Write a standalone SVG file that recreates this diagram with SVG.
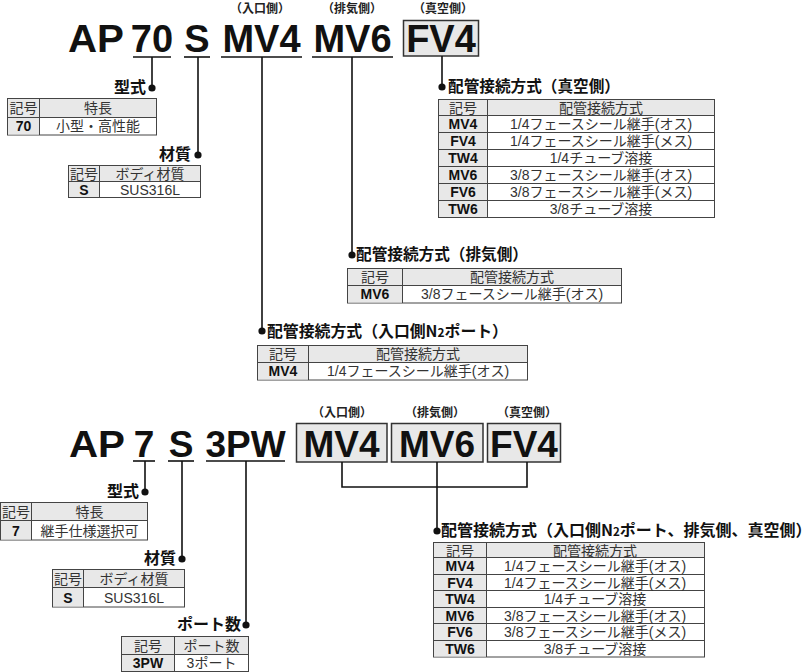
<svg xmlns="http://www.w3.org/2000/svg" width="806" height="672" viewBox="0 0 806 672">
<style>
.code{font-family:"Liberation Sans","Noto Sans CJK JP",sans-serif;font-weight:bold;fill:#111;text-anchor:middle}
.side{font-family:"Noto Sans CJK JP",sans-serif;font-weight:bold;font-size:12px;fill:#222;text-anchor:middle}
.lbl{font-family:"Noto Sans CJK JP",sans-serif;font-weight:bold;font-size:16px;fill:#111}
.end{text-anchor:end}
.th{font-family:"Liberation Sans","Noto Sans CJK JP",sans-serif;font-size:14px;fill:#333;text-anchor:middle}
.tc{font-family:"Liberation Sans","Noto Sans CJK JP",sans-serif;font-size:14px;font-weight:bold;fill:#111;text-anchor:middle}
.tb{fill:#fff;stroke:#444;stroke-width:1}
.gr{fill:#e8e8e8;stroke:none}
.gl{stroke:#444;stroke-width:1;fill:none}
.box{fill:#e8e8e8;stroke:#333;stroke-width:1.5}
.ln{stroke:#111;stroke-width:1.6;fill:none}
.dot{fill:#111}
</style>

<!-- ===== Section 1 header ===== -->
<g id="hdr1">
  <text class="code" x="96" y="52" font-size="38" textLength="56" lengthAdjust="spacingAndGlyphs">AP</text>
  <text class="side" x="260" y="13">（入口側）</text>
  <text class="side" x="352" y="13">（排気側）</text>
  <text class="side" x="443" y="13">（真空側）</text>
</g>
<g id="h1-70"><text class="code" x="152" y="52" font-size="38">70</text><line class="ln" x1="133" y1="57" x2="171" y2="57"/></g>
<g id="h1-s"><text class="code" x="197" y="52" font-size="38">S</text><line class="ln" x1="184" y1="57" x2="210" y2="57"/></g>
<g id="h1-mv4"><text class="code" x="261.5" y="52" font-size="38">MV4</text><line class="ln" x1="221" y1="57" x2="302" y2="57"/></g>
<g id="h1-mv6"><text class="code" x="352.5" y="52" font-size="38">MV6</text><line class="ln" x1="312" y1="57" x2="393" y2="57"/></g>
<g id="h1-fv4"><rect class="box" x="403.5" y="20.5" width="75" height="35.5"/><text class="code" x="441" y="52" font-size="38">FV4</text></g>

<!-- ===== Section 1 connectors ===== -->
<g id="connectors1">
  <line class="ln" x1="152" y1="57" x2="152" y2="88"/><circle class="dot" cx="152" cy="88" r="3.6"/>
  <line class="ln" x1="198" y1="57" x2="198" y2="155"/><circle class="dot" cx="198" cy="155" r="3.6"/>
  <line class="ln" x1="262" y1="57" x2="262" y2="331"/><circle class="dot" cx="262" cy="331" r="3.6"/>
  <line class="ln" x1="352" y1="57" x2="352" y2="255"/><circle class="dot" cx="352" cy="255" r="3.6"/>
  <line class="ln" x1="442" y1="56" x2="442" y2="87"/><circle class="dot" cx="442" cy="87" r="3.6"/>
</g>

<!-- 型式 table 1 -->
<g id="t1-model">
  <text class="lbl end" x="146" y="93">型式</text>
  <rect class="tb" x="7.5" y="98.5" width="149" height="36.5"/>
  <rect class="gr" x="8" y="99" width="148" height="18"/>
  <rect class="gr" x="8" y="117" width="31" height="17.5"/>
  <path class="gl" d="M7.5 117.5H156.5M39.5 98.5V135"/>
  <text class="th" x="23.5" y="113">記号</text><text class="th" x="98" y="113">特長</text>
  <text class="tc" x="23.5" y="131">70</text><text class="th" x="98" y="131">小型・高性能</text>
</g>

<!-- 材質 table 1 -->
<g id="t1-mat">
  <text class="lbl end" x="191" y="160">材質</text>
  <rect class="tb" x="68.5" y="165.5" width="132" height="32"/>
  <rect class="gr" x="69" y="166" width="131" height="15"/>
  <rect class="gr" x="69" y="181" width="30" height="16"/>
  <path class="gl" d="M68.5 181.5H200.5M99.5 165.5V197.5"/>
  <text class="th" x="84" y="178.5">記号</text><text class="th" x="150" y="178.5">ボディ材質</text>
  <text class="tc" x="84" y="194.5">S</text><text class="th" x="150" y="194.5">SUS316L</text>
</g>

<!-- 真空側 table -->
<g id="t1-vac">
  <text class="lbl" x="448" y="92" textLength="172" lengthAdjust="spacingAndGlyphs">配管接続方式（真空側）</text>
  <rect class="tb" x="438.5" y="99.5" width="276" height="118"/>
  <rect class="gr" x="439" y="100" width="275" height="15.5"/>
  <rect class="gr" x="439" y="115.5" width="48" height="101.5"/>
  <path class="gl" d="M438.5 115.5H714.5M438.5 132.5H714.5M438.5 149.5H714.5M438.5 166.5H714.5M438.5 183.5H714.5M438.5 200.5H714.5M487.5 99.5V217.5"/>
  <text class="th" x="463" y="112.5">記号</text><text class="th" x="601" y="112.5">配管接続方式</text>
  <text class="tc" x="463" y="129">MV4</text><text class="th" x="601" y="129">1/4フェースシール継手(オス)</text>
  <text class="tc" x="463" y="146">FV4</text><text class="th" x="601" y="146">1/4フェースシール継手(メス)</text>
  <text class="tc" x="463" y="163">TW4</text><text class="th" x="601" y="163">1/4チューブ溶接</text>
  <text class="tc" x="463" y="180">MV6</text><text class="th" x="601" y="180">3/8フェースシール継手(オス)</text>
  <text class="tc" x="463" y="197">FV6</text><text class="th" x="601" y="197">3/8フェースシール継手(メス)</text>
  <text class="tc" x="463" y="214">TW6</text><text class="th" x="601" y="214">3/8チューブ溶接</text>
</g>

<!-- 排気側 table -->
<g id="t1-exh">
  <text class="lbl" x="356" y="260" textLength="172" lengthAdjust="spacingAndGlyphs">配管接続方式（排気側）</text>
  <rect class="tb" x="347.5" y="268.5" width="274" height="34.5"/>
  <rect class="gr" x="348" y="269" width="273" height="16"/>
  <rect class="gr" x="348" y="285" width="54" height="17.5"/>
  <path class="gl" d="M347.5 285.5H621.5M402.5 268.5V303"/>
  <text class="th" x="375" y="282">記号</text><text class="th" x="512" y="282">配管接続方式</text>
  <text class="tc" x="375" y="299">MV6</text><text class="th" x="512" y="299">3/8フェースシール継手(オス)</text>
</g>

<!-- 入口側 table -->
<g id="t1-in">
  <text class="lbl" x="267" y="337" textLength="241" lengthAdjust="spacingAndGlyphs">配管接続方式（入口側N<tspan font-size="12">2</tspan>ポート）</text>
  <rect class="tb" x="257.5" y="345.5" width="270" height="34.5"/>
  <rect class="gr" x="258" y="346" width="269" height="16"/>
  <rect class="gr" x="258" y="362" width="50" height="17.5"/>
  <path class="gl" d="M257.5 362.5H527.5M308.5 345.5V380"/>
  <text class="th" x="283" y="359">記号</text><text class="th" x="418" y="359">配管接続方式</text>
  <text class="tc" x="283" y="376">MV4</text><text class="th" x="418" y="376">1/4フェースシール継手(オス)</text>
</g>

<!-- ===== Section 2 header ===== -->
<g id="hdr2">
  <text class="code" x="97" y="457" font-size="37" textLength="56" lengthAdjust="spacingAndGlyphs">AP</text>
  <text class="side" x="342" y="417">（入口側）</text>
  <text class="side" x="435" y="417">（排気側）</text>
  <text class="side" x="527" y="417">（真空側）</text>
</g>
<g id="h2-7"><text class="code" x="144" y="457" font-size="37">7</text><line class="ln" x1="133" y1="461" x2="155" y2="461"/></g>
<g id="h2-s"><text class="code" x="181" y="457" font-size="37">S</text><line class="ln" x1="168" y1="461" x2="194" y2="461"/></g>
<g id="h2-3pw"><text class="code" x="245.5" y="457" font-size="37">3PW</text><line class="ln" x1="206" y1="461" x2="285" y2="461"/></g>
<g id="h2-mv4"><rect class="box" x="296.5" y="423.5" width="90.5" height="38.5"/><text class="code" x="341.5" y="457" font-size="37">MV4</text></g>
<g id="h2-mv6"><rect class="box" x="391.5" y="423.5" width="91.5" height="38.5"/><text class="code" x="437" y="457" font-size="37">MV6</text></g>
<g id="h2-fv4"><rect class="box" x="487.5" y="423.5" width="73" height="38.5"/><text class="code" x="524" y="457" font-size="37">FV4</text></g>

<!-- ===== Section 2 connectors ===== -->
<g id="connectors2">
  <line class="ln" x1="145" y1="461" x2="145" y2="492"/><circle class="dot" cx="145" cy="492" r="3.6"/>
  <line class="ln" x1="182" y1="461" x2="182" y2="559"/><circle class="dot" cx="182" cy="559" r="3.6"/>
  <line class="ln" x1="246" y1="461" x2="246" y2="625"/><circle class="dot" cx="246" cy="625" r="3.6"/>
  <path class="ln" d="M342 462V487H527V462"/>
  <line class="ln" x1="437" y1="462" x2="437" y2="531"/><circle class="dot" cx="437" cy="531" r="3.6"/>
</g>

<!-- 型式 table 2 -->
<g id="t2-model">
  <text class="lbl end" x="139" y="497">型式</text>
  <rect class="tb" x="0.5" y="502.5" width="147" height="37.5"/>
  <rect class="gr" x="1" y="503" width="146" height="17"/>
  <rect class="gr" x="1" y="520" width="30" height="19.5"/>
  <path class="gl" d="M0.5 520.5H147.5M31.5 502.5V540"/>
  <text class="th" x="16" y="516.5">記号</text><text class="th" x="89.5" y="516.5">特長</text>
  <text class="tc" x="16" y="535.5">7</text><text class="th" x="89.5" y="535.5">継手仕様選択可</text>
</g>

<!-- 材質 table 2 -->
<g id="t2-mat">
  <text class="lbl end" x="176" y="564">材質</text>
  <rect class="tb" x="52.5" y="569.5" width="132" height="37.5"/>
  <rect class="gr" x="53" y="570" width="131" height="17"/>
  <rect class="gr" x="53" y="587" width="30" height="19.5"/>
  <path class="gl" d="M52.5 587.5H184.5M83.5 569.5V607"/>
  <text class="th" x="68" y="583.5">記号</text><text class="th" x="134" y="583.5">ボディ材質</text>
  <text class="tc" x="68" y="602.5">S</text><text class="th" x="134" y="602.5">SUS316L</text>
</g>

<!-- ポート数 table -->
<g id="t2-port">
  <text class="lbl end" x="241" y="630">ポート数</text>
  <rect class="tb" x="121.5" y="636.5" width="127" height="35"/>
  <rect class="gr" x="122" y="637" width="126" height="17"/>
  <rect class="gr" x="122" y="654" width="52" height="17"/>
  <path class="gl" d="M121.5 654.5H248.5M174.5 636.5V671.5"/>
  <text class="th" x="148" y="650.5">記号</text><text class="th" x="211.5" y="650.5">ポート数</text>
  <text class="tc" x="148" y="668">3PW</text><text class="th" x="211.5" y="668">3ポート</text>
</g>

<!-- 全ポート table -->
<g id="t2-all">
  <text class="lbl" x="441" y="536" font-size="14.8">配管接続方式（入口側N<tspan font-size="11.5">2</tspan>ポート、排気側、真空側）</text>
  <rect class="tb" x="433.5" y="542.5" width="271" height="114.5"/>
  <rect class="gr" x="434" y="543" width="270" height="14.5"/>
  <rect class="gr" x="434" y="557.5" width="52" height="99"/>
  <path class="gl" d="M433.5 557.5H704.5M433.5 574.5H704.5M433.5 590.5H704.5M433.5 607.5H704.5M433.5 623.5H704.5M433.5 640.5H704.5M486.5 542.5V657"/>
  <text class="th" x="460" y="555.5">記号</text><text class="th" x="595" y="555.5">配管接続方式</text>
  <text class="tc" x="460" y="571">MV4</text><text class="th" x="595" y="571">1/4フェースシール継手(オス)</text>
  <text class="tc" x="460" y="587.5">FV4</text><text class="th" x="595" y="587.5">1/4フェースシール継手(メス)</text>
  <text class="tc" x="460" y="604">TW4</text><text class="th" x="595" y="604">1/4チューブ溶接</text>
  <text class="tc" x="460" y="620.5">MV6</text><text class="th" x="595" y="620.5">3/8フェースシール継手(オス)</text>
  <text class="tc" x="460" y="637">FV6</text><text class="th" x="595" y="637">3/8フェースシール継手(メス)</text>
  <text class="tc" x="460" y="653.5">TW6</text><text class="th" x="595" y="653.5">3/8チューブ溶接</text>
</g>
</svg>
